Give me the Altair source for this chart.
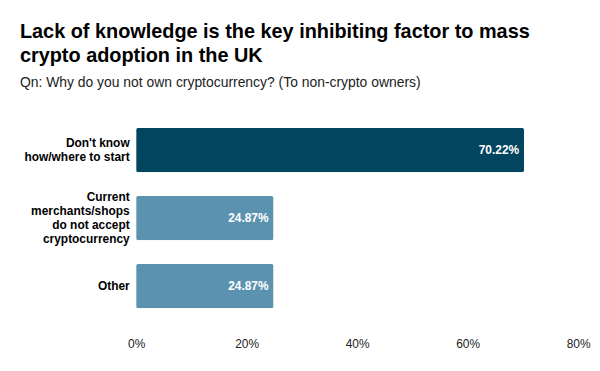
import altair as alt
import pandas as pd

categories = ["Don't know|how/where to start",
              "Current|merchants/shops|do not accept|cryptocurrency",
              "Other"]
values = [0.7022, 0.2487, 0.2487]
labels = ["70.22%", "24.87%", "24.87%"]
highlight = ["top", "rest", "rest"]

df = pd.DataFrame({"cat": categories, "val": values, "lab": labels, "grp": highlight})

FONT = "Liberation Sans"

y = alt.Y("cat:N", sort=categories, title=None,
          scale=alt.Scale(paddingInner=0.35, paddingOuter=0.3),
          axis=alt.Axis(labelExpr="split(datum.label, '|')", labelFont=FONT,
                        labelFontSize=12, labelFontWeight="bold", labelColor="#000000",
                        labelLineHeight=14, labelPadding=7, labelLimit=300,
                        labelOffset={"condition": [
                            {"test": "indexof(datum.value, 'Current') == 0", "value": -21},
                            {"test": "indexof(datum.value, 'Don') == 0", "value": -7}],
                            "value": 0},
                        ticks=False, domain=False))

bars = alt.Chart(df).mark_bar(cornerRadius=2).encode(
    x=alt.X("val:Q", title=None,
            scale=alt.Scale(domain=[0, 0.8], nice=False),
            axis=alt.Axis(format=".0%", values=[0, 0.2, 0.4, 0.6, 0.8], grid=False,
                          ticks=False, domain=False, labelFont=FONT, labelFontSize=12,
                          labelColor="#222222", labelPadding=10, labelFlush=False)),
    y=y,
    color=alt.Color("grp:N", scale=alt.Scale(domain=["top", "rest"],
                                             range=["#02455f", "#5b92af"]), legend=None),
)

text = alt.Chart(df).mark_text(align="right", baseline="middle", dx=-5, font=FONT,
                               fontSize=12, fontWeight="bold", color="white").encode(
    x="val:Q", y=alt.Y("cat:N", sort=categories), text="lab:N")

chart = (bars + text).properties(
    width=445, height=222.6,
    title=alt.TitleParams(
        text=["Lack of knowledge is the key inhibiting factor to mass",
              "crypto adoption in the UK"],
        subtitle="Qn: Why do you not own cryptocurrency? (To non-crypto owners)",
        anchor="start", frame="group", dx=-117, offset=18,
        font=FONT, fontSize=20, fontWeight="bold", color="#000000", lineHeight=24,
        subtitleFont=FONT, subtitleFontSize=14, subtitleColor="#222222",
        subtitlePadding=10),
    autosize=alt.AutoSizeParams(type="none"),
    padding={"left": 129, "top": 99, "right": 14, "bottom": 42},
).configure_view(stroke=None)

chart.save("out.html", embed_options={"renderer": "svg", "actions": False})
